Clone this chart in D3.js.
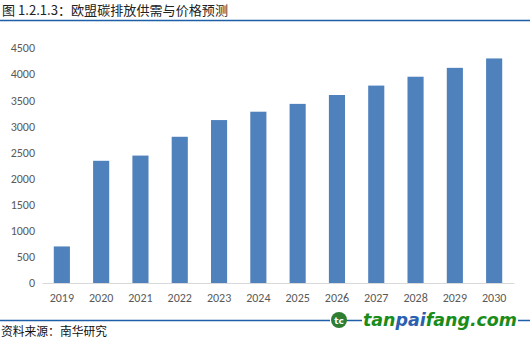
<!DOCTYPE html>
<html><head><meta charset="utf-8">
<script src="https://cdn.jsdelivr.net/npm/d3@7/dist/d3.min.js"></script>
<style>body{margin:0;background:#fff}svg{display:block}</style>
</head><body>
<svg id="c" width="530" height="340"></svg>
<script>
const years = ["2019","2020","2021","2022","2023","2024","2025","2026","2027","2028","2029","2030"];
const values = [700, 2340, 2440, 2800, 3120, 3280, 3430, 3600, 3780, 3950, 4120, 4300];
const yTicks = [0,500,1000,1500,2000,2500,3000,3500,4000,4500];
const titleText = "图 1.2.1.3：欧盟碳排放供需与价格预测";
const sourceText = "资料来源：南华研究";

const svg = d3.select("#c");
const font = "'Microsoft YaHei','Noto Sans CJK SC','DejaVu Sans',sans-serif";
const m = {left:42, right:16, top:48, bottom:57};
const W = 530, H = 340;
const x = d3.scaleBand().domain(years).range([m.left, W - m.right]).paddingInner(0.59).paddingOuter(0.3);
const y = d3.scaleLinear().domain([0,4500]).range([H - m.bottom, m.top]);

// title
svg.append("text").attr("x",2).attr("y",15).attr("font-family",font).attr("font-size",13)
  .attr("fill","#222").attr("textLength",226).attr("lengthAdjust","spacingAndGlyphs").text(titleText);
svg.append("line").attr("x1",0).attr("x2",530).attr("y1",20.5).attr("y2",20.5)
  .attr("stroke","#1f5ea8").attr("stroke-width",1.5);

// y axis
const ya = svg.append("g").attr("transform",`translate(${m.left-7},0)`)
  .call(d3.axisLeft(y).tickValues(yTicks).tickFormat(d3.format("d")).tickSize(0).tickPadding(0));
ya.select(".domain").remove();
ya.selectAll("text").attr("font-family","Calibri,Carlito,'Liberation Sans',sans-serif").attr("font-size",12).attr("fill","#595959");

// bars
svg.append("g").selectAll("rect").data(values).join("rect")
  .attr("x",(d,i)=>x(years[i])).attr("width",x.bandwidth())
  .attr("y",d=>y(d)).attr("height",d=>y(0)-y(d)).attr("fill","#4f81bd");

// x axis
const xa = svg.append("g").attr("transform",`translate(0,${y(0)})`)
  .call(d3.axisBottom(x).tickSize(0).tickPadding(10));
xa.select(".domain").attr("stroke","#d9d9d9").attr("stroke-width",1.2);
xa.selectAll("text").attr("font-family","Calibri,Carlito,'Liberation Sans',sans-serif").attr("font-size",12).attr("fill","#595959");

// bottom line with logo
svg.append("line").attr("x1",0).attr("x2",330).attr("y1",320.5).attr("y2",320.5).attr("stroke","#1f5ea8").attr("stroke-width",1.5);
svg.append("line").attr("x1",346).attr("x2",362).attr("y1",320.5).attr("y2",320.5).attr("stroke","#1f5ea8").attr("stroke-width",1.5);
svg.append("line").attr("x1",518).attr("x2",530).attr("y1",320.5).attr("y2",320.5).attr("stroke","#1f5ea8").attr("stroke-width",1.5);
svg.append("circle").attr("cx",339).attr("cy",320).attr("r",8).attr("fill","#2e7d32");
svg.append("text").attr("x",339).attr("y",324).attr("text-anchor","middle").attr("font-family","'DejaVu Sans',sans-serif")
  .attr("font-size",9).attr("font-weight","bold").attr("fill","#fff").text("tc");
const logo = svg.append("text").attr("x",363).attr("y",326).attr("font-family","'DejaVu Sans',sans-serif")
  .attr("font-size",17).attr("font-weight","bold").attr("font-style","italic").attr("textLength",154).attr("lengthAdjust","spacingAndGlyphs");
logo.append("tspan").attr("fill","#1a8c1a").text("tan");
logo.append("tspan").attr("fill","#2b5fb0").text("pai");
logo.append("tspan").attr("fill","#1a8c1a").text("fang.com");

// source
svg.append("text").attr("x",1).attr("y",336).attr("font-family",font).attr("font-size",12)
  .attr("fill","#111").attr("textLength",106).attr("lengthAdjust","spacingAndGlyphs").text(sourceText);
</script>
</body></html>
